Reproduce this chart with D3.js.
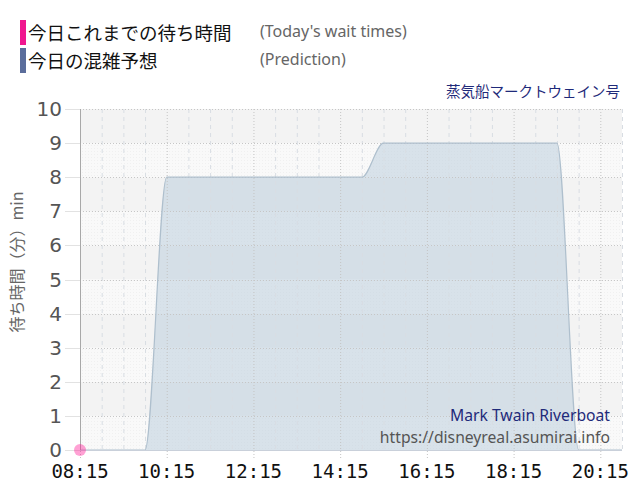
<!DOCTYPE html>
<html>
<head>
<meta charset="utf-8">
<script src="https://cdn.jsdelivr.net/npm/d3@7"></script>
<style>
body { margin: 0; background: #fff; }
</style>
</head>
<body>
<svg id="svg" width="640" height="500"></svg>
<script>
// series data
var predTimes = ['08:15', '08:45', '09:15', '09:45', '10:15', '10:45', '11:15', '11:45',
    '12:15', '12:45', '13:15', '13:45', '14:15', '14:45', '15:15', '15:45', '16:15',
    '16:45', '17:15', '17:45', '18:15', '18:45', '19:15', '19:45', '20:15', '20:45'];
var predValues = [0, 0, 0, 0, 8, 8, 8, 8,
    8, 8, 8, 8, 8, 8, 9, 9, 9,
    9, 9, 9, 9, 9, 9, 0, 0, 0];
var actualTimes = ['08:15'];
var actualValues = [0];
var xTicks = ['08:15', '10:15', '12:15', '14:15', '16:15', '18:15', '20:15'];
var yTicks = [0, 1, 2, 3, 4, 5, 6, 7, 8, 9, 10];
var legendJa = ['今日これまでの待ち時間', '今日の混雑予想'];
var legendEn = ["(Today's wait times)", '(Prediction)'];

var dg = {};
dg.left = 80;
dg.right = 622;
dg.top = 109;
dg.bottom = 450;

function toMin(s) {
    var p = s.split(':');
    return +p[0] * 60 + +p[1];
}

var svg = d3.select('#svg');

var x = d3.scaleLinear()
    .domain([toMin('08:15'), toMin('20:45')])
    .range([dg.left, dg.right]);
var y = d3.scaleLinear()
    .domain([0, 10])
    .range([dg.bottom, dg.top]);

// stipple pattern for light bands
var defs = svg.append('defs');
var pat = defs.append('pattern')
    .attr('id', 'dots')
    .attr('width', 3)
    .attr('height', 3)
    .attr('patternUnits', 'userSpaceOnUse');
pat.append('rect').attr('width', 3).attr('height', 3).attr('fill', '#f9f9f9');
pat.append('rect').attr('x', 1).attr('y', 1).attr('width', 1).attr('height', 1).attr('fill', '#f0f0f0');

// horizontal bands
var bands = d3.range(0, 10);
svg.append('g').selectAll('rect')
    .data(bands)
    .enter()
    .append('rect')
    .attr('x', dg.left)
    .attr('y', function(d) { return y(d + 1); })
    .attr('width', dg.right - dg.left)
    .attr('height', function(d) { return y(d) - y(d + 1); })
    .attr('fill', function(d) { return d % 2 == 1 ? '#f3f3f3' : 'url(#dots)'; });

// prediction area
var predData = predTimes.map(function(t, i) {
    return { t: toMin(t), v: predValues[i] };
});
var area = d3.area()
    .x(function(d) { return x(d.t); })
    .y0(y(0))
    .y1(function(d) { return y(d.v); })
    .curve(d3.curveMonotoneX);
var line = d3.line()
    .x(function(d) { return x(d.t); })
    .y(function(d) { return y(d.v); })
    .curve(d3.curveMonotoneX);

svg.append('path')
    .datum(predData)
    .attr('d', area)
    .attr('fill', '#b7cbdb')
    .attr('fill-opacity', 0.5);

// vertical grid
var minor = d3.range(toMin('08:45'), toMin('20:45') + 1, 30)
    .filter(function(m) { return (m - toMin('08:15')) % 120 != 0; });
svg.append('g').selectAll('line')
    .data(minor)
    .enter()
    .append('line')
    .attr('x1', function(d) { return x(d) + 0.5; })
    .attr('x2', function(d) { return x(d) + 0.5; })
    .attr('y1', dg.top)
    .attr('y2', dg.bottom)
    .attr('stroke', '#d8dde3')
    .attr('stroke-dasharray', '4,4');

svg.append('g').selectAll('line')
    .data(xTicks.map(toMin))
    .enter()
    .append('line')
    .attr('x1', function(d) { return x(d) + 0.5; })
    .attr('x2', function(d) { return x(d) + 0.5; })
    .attr('y1', dg.top)
    .attr('y2', dg.bottom + 10)
    .attr('stroke', '#c4c4c4')
    .attr('stroke-dasharray', '1,2');

// horizontal grid
var hg = svg.append('g');
hg.selectAll('line.dot')
    .data(yTicks)
    .enter()
    .append('line')
    .attr('class', 'dot')
    .attr('x1', dg.left)
    .attr('x2', dg.right)
    .attr('y1', function(d) { return Math.round(y(d)) + 0.5; })
    .attr('y2', function(d) { return Math.round(y(d)) + 0.5; })
    .attr('stroke', '#c6c6c6')
    .attr('stroke-dasharray', '1,2');
hg.selectAll('line.tick')
    .data(yTicks)
    .enter()
    .append('line')
    .attr('class', 'tick')
    .attr('x1', 65)
    .attr('x2', dg.left)
    .attr('y1', function(d) { return Math.round(y(d)) + 0.5; })
    .attr('y2', function(d) { return Math.round(y(d)) + 0.5; })
    .attr('stroke', '#e2e2e2');

svg.append('path')
    .datum(predData)
    .attr('d', line)
    .attr('fill', 'none')
    .attr('stroke', '#aebfcd')
    .attr('stroke-width', 1.2);

// axes lines
svg.append('line')
    .attr('x1', dg.left + 0.5).attr('x2', dg.left + 0.5)
    .attr('y1', dg.top).attr('y2', dg.bottom)
    .attr('stroke', '#a8a8a8');
svg.append('line')
    .attr('x1', dg.left).attr('x2', dg.right)
    .attr('y1', dg.bottom + 0.5).attr('y2', dg.bottom + 0.5)
    .attr('stroke', '#c9d0da');

// axis labels
svg.append('g').selectAll('text')
    .data(yTicks)
    .enter()
    .append('text')
    .attr('x', 62)
    .attr('y', function(d) { return y(d); })
    .attr('dy', '0.35em')
    .attr('text-anchor', 'end')
    .attr('font-family', 'DejaVu Sans')
    .attr('font-size', 20)
    .attr('fill', '#555')
    .text(function(d) { return d; });

svg.append('g').selectAll('text')
    .data(xTicks)
    .enter()
    .append('text')
    .attr('x', function(d) { return x(toMin(d)); })
    .attr('y', 478)
    .attr('text-anchor', 'middle')
    .attr('font-family', 'DejaVu Sans Mono')
    .attr('font-size', 19)
    .attr('fill', '#111')
    .text(function(d) { return d; });

svg.append('text')
    .attr('transform', 'translate(23,262) rotate(-90)')
    .attr('text-anchor', 'middle')
    .attr('font-family', 'Noto Sans CJK JP')
    .attr('font-size', 16)
    .attr('fill', '#666')
    .text('待ち時間（分）min');

// actual wait times
svg.append('g').selectAll('circle')
    .data(actualTimes)
    .enter()
    .append('circle')
    .attr('cx', function(d) { return x(toMin(d)); })
    .attr('cy', function(d, i) { return y(actualValues[i]); })
    .attr('r', 6)
    .attr('fill', '#ff1493')
    .attr('fill-opacity', 0.4);

// legend
var legColors = ['#f0178f', '#5b6d9b'];
var leg = svg.append('g');
leg.selectAll('rect')
    .data(legendJa)
    .enter()
    .append('rect')
    .attr('x', 20)
    .attr('y', function(d, i) { return 20 + i * 28; })
    .attr('width', 6)
    .attr('height', 25)
    .attr('fill', function(d, i) { return legColors[i]; });
leg.selectAll('text.ja')
    .data(legendJa)
    .enter()
    .append('text')
    .attr('class', 'ja')
    .attr('x', 28)
    .attr('y', function(d, i) { return 40 + i * 28; })
    .attr('font-family', 'Noto Sans CJK JP')
    .attr('font-size', 18.5)
    .attr('fill', '#111')
    .text(function(d) { return d; });
leg.selectAll('text.en')
    .data(legendEn)
    .enter()
    .append('text')
    .attr('class', 'en')
    .attr('x', 260)
    .attr('y', function(d, i) { return 37 + i * 28; })
    .attr('font-family', 'Noto Sans')
    .attr('font-size', 16)
    .attr('fill', '#666')
    .text(function(d) { return d; });

// titles
svg.append('text')
    .attr('x', 620)
    .attr('y', 97)
    .attr('text-anchor', 'end')
    .attr('font-family', 'Noto Sans CJK JP')
    .attr('font-size', 14.5)
    .attr('fill', '#1f2a7a')
    .text('蒸気船マークトウェイン号');

svg.append('text')
    .attr('x', 610)
    .attr('y', 421)
    .attr('text-anchor', 'end')
    .attr('font-family', 'Noto Sans')
    .attr('font-size', 15.7)
    .attr('fill', '#1f2a7a')
    .text('Mark Twain Riverboat');
svg.append('text')
    .attr('x', 610)
    .attr('y', 443)
    .attr('text-anchor', 'end')
    .attr('font-family', 'Noto Sans')
    .attr('font-size', 15.7)
    .attr('fill', '#555')
    .text('https://disneyreal.asumirai.info');
</script>
</body>
</html>
